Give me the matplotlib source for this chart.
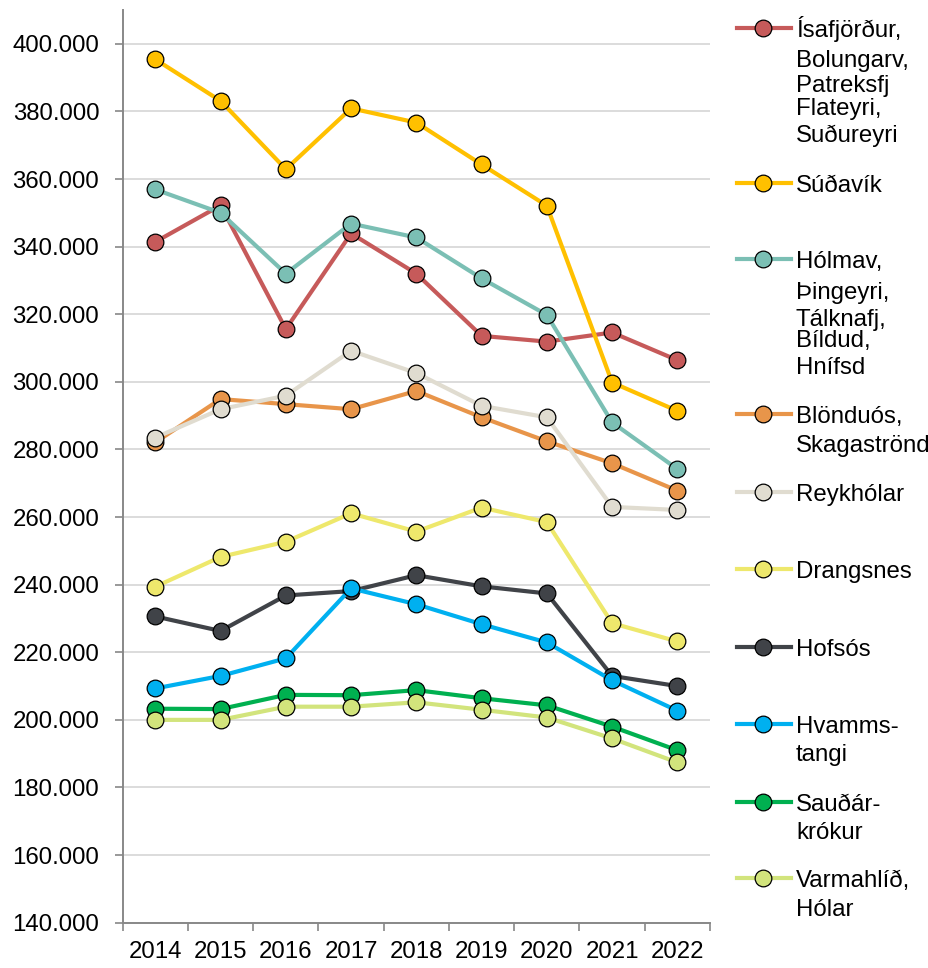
import matplotlib
matplotlib.use("Agg")
import matplotlib.pyplot as plt
from matplotlib.lines import Line2D
from matplotlib.ticker import FuncFormatter, FixedLocator

plt.rcParams['font.family'] = ['Liberation Sans', 'DejaVu Sans']

years = ["2014", "2015", "2016", "2017", "2018", "2019", "2020", "2021", "2022"]

isafjordur = [341400, 352200, 315600, 343900, 332000, 313600, 311900, 314600, 306400]
sudavik = [395400, 383100, 362900, 380900, 376700, 364300, 352100, 299800, 291400]
holmavik = [356900, 350000, 332000, 346800, 342700, 330600, 319800, 288000, 274200]
blonduos = [282100, 294900, 293400, 291900, 297300, 289500, 282400, 275900, 267800]
reykholar = [283500, 291900, 295900, 309200, 302600, 292900, 289500, 263000, 262100]
drangsnes = [239400, 248200, 252700, 261100, 255700, 262800, 258500, 228600, 223200]
hofsos = [230600, 226300, 236800, 238100, 242800, 239500, 237400, 213000, 210000]
hvammstangi = [209300, 213000, 218200, 238900, 234200, 228300, 222900, 211700, 202700]
saudarkrokur = [203300, 203200, 207400, 207300, 208800, 206400, 204300, 198000, 191000]
varmahlid = [200000, 200000, 203900, 203900, 205200, 203000, 200700, 194500, 187400]

series = [isafjordur, sudavik, holmavik, blonduos, reykholar,
          drangsnes, hofsos, hvammstangi, saudarkrokur, varmahlid]
colors = ['#C65A5A', '#FFC000', '#7BBFB4', '#E8954A', '#E0DCD0',
          '#EEE86C', '#404348', '#00B0F0', '#00B050', '#D2E47C']

# legend labels, one list of lines per series
labels = [
    ["Ísafjörður,", "Bolungarv,", "Patreksfj", "Flateyri,", "Suðureyri"],
    ["Súðavík"],
    ["Hólmav,", "Þingeyri,", "Tálknafj,", "Bíldud,", "Hnífsd"],
    ["Blönduós,", "Skagaströnd"],
    ["Reykhólar"],
    ["Drangsnes"],
    ["Hofsós"],
    ["Hvamms-", "tangi"],
    ["Sauðár-", "krókur"],
    ["Varmahlíð,", "Hólar"],
]
# pixel rows (from top) for each legend text line
label_rows = [
    [28, 58, 83, 106, 133],
    [183],
    [259, 290, 317, 338, 365],
    [414, 443],
    [492],
    [569],
    [647],
    [724, 752],
    [802, 830],
    [878, 907],
]

W, H = 929, 968
FS = 17.3
fig = plt.figure(figsize=(W / 100, H / 100), dpi=100)
ax = fig.add_axes([122.7 / W, 1 - 922.7 / H, (710 - 122.7) / W, (922.7 - 10) / H])

x = list(range(len(years)))
for vals, c in zip(series, colors):
    ax.plot(x, vals, color=c, lw=3.0, marker='o', markersize=12,
            markerfacecolor=c, markeredgecolor='black', markeredgewidth=0.9,
            solid_joinstyle='round', clip_on=False)

ax.set_xlim(-0.5, len(years) - 0.5)
ax.set_ylim(140000, 410000)
ax.set_yticks(range(140000, 400001, 20000))
ax.yaxis.set_major_formatter(FuncFormatter(lambda v, p: f"{int(v):,}".replace(",", ".")))
ax.grid(axis='y', color='#D9D9D9', lw=1.3)
ax.set_axisbelow(True)

ax.xaxis.set_major_locator(FixedLocator([i - 0.5 for i in range(len(years) + 1)]))
ax.xaxis.set_minor_locator(FixedLocator(x))
ax.set_xticklabels([])
ax.set_xticklabels(years, minor=True)
ax.tick_params(axis='x', which='major', length=5.5, width=1.2, color='#888888')
ax.tick_params(axis='x', which='minor', length=0, pad=13.5, labelsize=FS)
ax.tick_params(axis='y', length=5.8, width=1.2, color='#888888', pad=11, labelsize=FS)

for s in ['top', 'right']:
    ax.spines[s].set_visible(False)
for s in ['left', 'bottom']:
    ax.spines[s].set_color('#888888')
    ax.spines[s].set_linewidth(1.4)

# hand-placed legend
for c, lines, rows in zip(colors, labels, label_rows):
    yc = 1 - rows[0] / H
    fig.add_artist(Line2D([737 / W, 791 / W], [yc, yc], color=c, lw=3.0,
                          transform=fig.transFigure))
    fig.add_artist(Line2D([763 / W], [yc], color=c, marker='o', markersize=12,
                          markerfacecolor=c, markeredgecolor='black',
                          markeredgewidth=0.9, transform=fig.transFigure))
    for txt, r in zip(lines, rows):
        fig.text(796 / W, 1 - (r + 8.6) / H, txt, fontsize=FS, va='baseline', ha='left')

fig.savefig("out.png", dpi=100)
